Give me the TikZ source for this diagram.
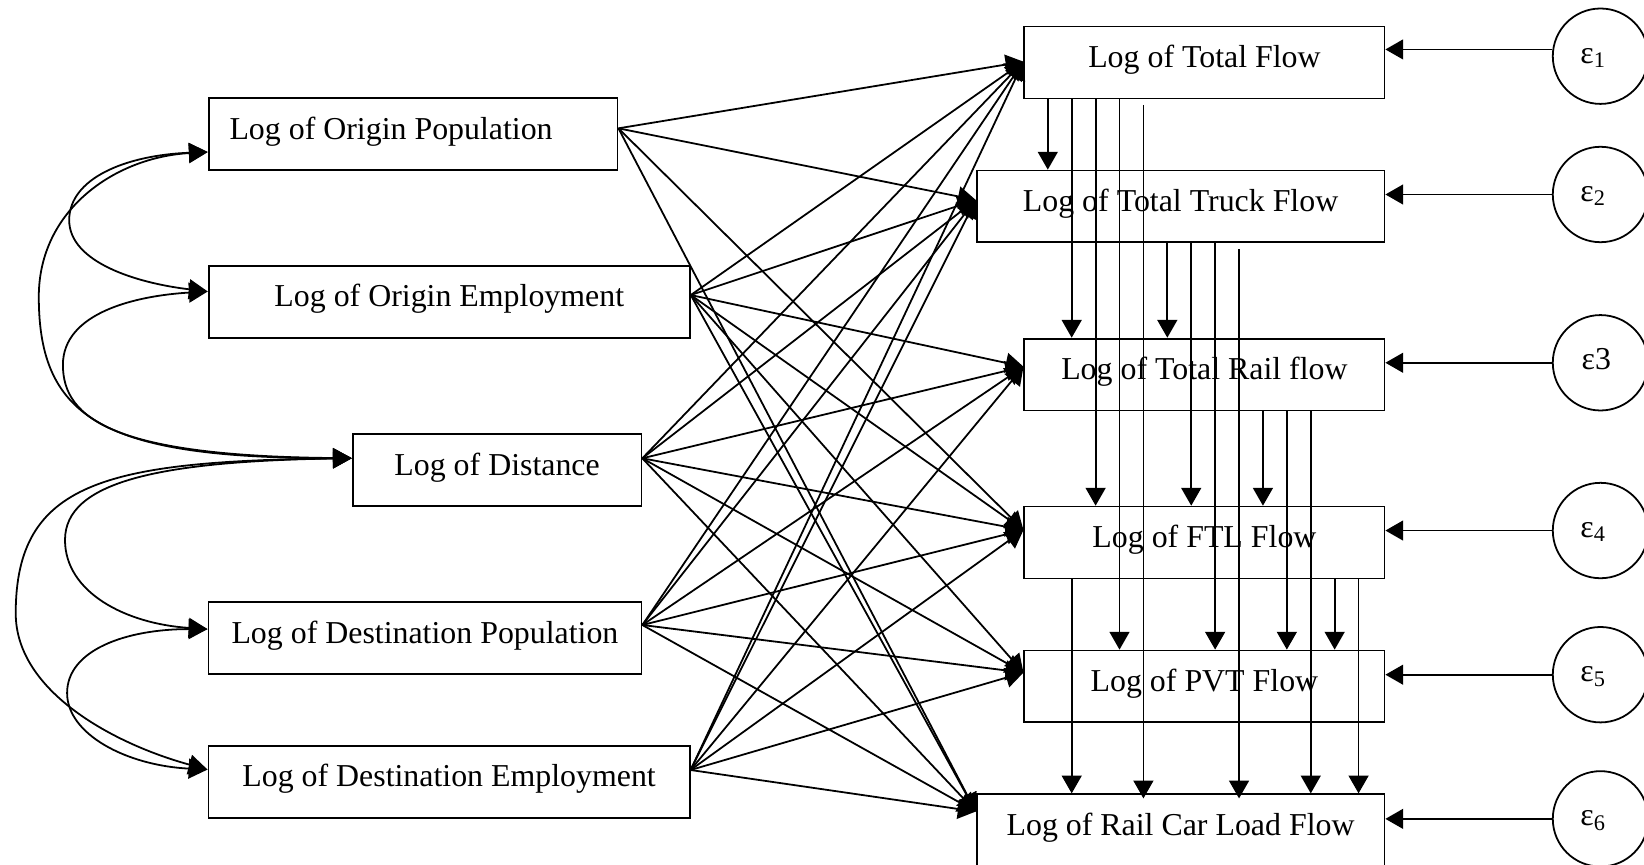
\documentclass[tikz,border=0pt]{standalone}
\usepackage{fontspec}
\setmainfont{Liberation Serif}
\usetikzlibrary{arrows.meta,calc}
\begin{document}
\begin{tikzpicture}[x=0.5pt,y=-0.5pt,
  box/.style={draw, line width=0.85pt, minimum height=34.25pt, inner sep=0pt,
    font=\fontsize{15.2}{18}\selectfont, text height=10pt, text depth=5.4pt},
  arr/.style={-{Triangle[length=8.5pt,width=9.5pt]}, line width=0.85pt},
  cov/.style={{Triangle[length=9pt,width=9.5pt]}-{Triangle[length=9pt,width=9.5pt]}, line width=0.85pt},
  err/.style={draw, circle, minimum size=45.5pt, inner sep=0pt, line width=0.85pt,
    font=\fontsize{15.2}{18}\selectfont, text height=8pt, text depth=1.5pt}]
\useasboundingbox (0,0) rectangle (1568,825);

% exogenous boxes
\node[box, minimum width=195pt]   (op)   at (394,128)     {Log of Origin Population\kern21pt\mbox{}};
\node[box, minimum width=229.5pt] (oe)   at (428.5,288.2) {Log of Origin Employment};
\node[box, minimum width=137.7pt] (dist) at (474.1,448.5) {Log of Distance};
\node[box, minimum width=206.5pt] (dp)   at (405.3,608.7) {Log of Destination Population};
\node[box, minimum width=229.5pt] (de)   at (428.3,746)   {Log of Destination Employment};

% endogenous boxes
\node[box, minimum width=171.75pt] (tf)  at (1148.75,59.6)  {Log of Total Flow};
\node[box, minimum width=194.5pt]  (ttf) at (1126,196.9)    {Log of Total Truck Flow};
\node[box, minimum width=171.75pt] (trf) at (1148.75,357.2) {Log of Total Rail flow};
\node[box, minimum width=171.75pt] (ftl) at (1148.75,517.4) {Log of FTL Flow};
\node[box, minimum width=171.75pt] (pvt) at (1148.75,654.7) {Log of PVT Flow};
\node[box, minimum width=194.5pt]  (rcl) at (1126,791.8)    {Log of Rail Car Load Flow};

% error terms
\node[err] (e1) at (1526.5,53.6) {ε\textsubscript{1}\kern7pt\mbox{}};
\node[err] (e2) at (1526.5,185.5) {ε\textsubscript{2}\kern7pt\mbox{}};
\node[err] (e3) at (1526.5,346) {ε3\kern4pt\mbox{}};
\node[err] (e4) at (1526.5,506) {ε\textsubscript{4}\kern7pt\mbox{}};
\node[err] (e5) at (1526.5,643.5) {ε\textsubscript{5}\kern7pt\mbox{}};
\node[err] (e6) at (1526.5,781) {ε\textsubscript{6}\kern7pt\mbox{}};

\draw[arr] (e1.172) -- (e1.172 -| tf.east);
\draw[arr] (e2.west) -- (e2.west -| ttf.east);
\draw[arr] (e3.west) -- (e3.west -| trf.east);
\draw[arr] (e4.west) -- (e4.west -| ftl.east);
\draw[arr] (e5.west) -- (e5.west -| pvt.east);
\draw[arr] (e6.west) -- (e6.west -| rcl.east);

% source / target points of the straight paths
\coordinate (sOP) at ($(op.east)+(0,-5.6)$);
\coordinate (sOE) at ($(oe.east)+(0,-6.8)$);
\coordinate (sDI) at ($(dist.east)+(0,-11.4)$);
\coordinate (sDP) at ($(dp.east)+(0,-12.6)$);
\coordinate (sDE) at ($(de.east)+(0,-11.6)$);
\coordinate (tTF)  at ($(tf.west)+(0,-0.8)$);
\coordinate (tTTF) at ($(ttf.west)+(0,-6.2)$);
\coordinate (tTRF) at ($(trf.west)+(0,-7.5)$);
\coordinate (tFTL) at ($(ftl.west)+(0,-11.9)$);
\coordinate (tPVT) at ($(pvt.west)+(0,-13.2)$);
\coordinate (tRCL) at ($(rcl.west)+(0,-17.8)$);

\foreach \t in {tTF,tTTF,tFTL,tRCL} \draw[arr] (sOP) -- (\t);
\foreach \s in {sOE,sDI,sDP,sDE}
  \foreach \t in {tTF,tTTF,tTRF,tFTL,tPVT,tRCL} \draw[arr] (\s) -- (\t);

% covariance curves
\coordinate (cOP) at ($(op.west)+(0,17)$);
\coordinate (cOE) at ($(oe.west)+(0,-10.2)$);
\coordinate (cDI) at ($(dist.west)+(0,-11.5)$);
\coordinate (cDP) at ($(dp.west)+(0,-8.7)$);
\coordinate (cDE) at ($(de.west)+(0,-12)$);

\draw[cov] (cOP) .. controls (120,148) and (66,170) .. (66,210) .. controls (66,250) and (130,270) .. (cOE);
\draw[cov] (cOP) .. controls (110,150) and (37,200) .. (37,283) .. controls (37,400) and (100,437) .. (cDI);
\draw[cov] (cOE) .. controls (130,282) and (60,298) .. (60,348) .. controls (60,400) and (110,435) .. (cDI);
\draw[cov] (cDI) .. controls (150,440) and (62,460) .. (62,515) .. controls (62,565) and (120,595) .. (cDP);
\draw[cov] (cDI) .. controls (100,440) and (15,460) .. (15,585) .. controls (15,660) and (110,710) .. (cDE);
\draw[cov] (cDP) .. controls (120,600) and (64,620) .. (64,661) .. controls (64,700) and (120,730) .. (cDE);

% vertical paths among endogenous variables
\foreach \k in {0,...,13} \coordinate (v\k) at ($(tf.south west)+({23.2+22.8*\k},0)$);
\draw[arr] (v0) -- (v0 |- ttf.north);
\draw[arr] (v1) -- (v1 |- trf.north);
\draw[arr] (v2) -- (v2 |- ftl.north);
\draw[arr] (v3) -- (v3 |- pvt.north);
\coordinate (a4) at ($(v4)+(0,5.4)$);
\coordinate (b4) at ($(v4 |- rcl.north)+(0,4.8)$);
\draw[arr] (a4) -- (b4);
\draw[arr] (v5 |- ttf.south) -- (v5 |- trf.north);
\draw[arr] (v6 |- ttf.south) -- (v6 |- ftl.north);
\draw[arr] (v7 |- ttf.south) -- (v7 |- pvt.north);
\coordinate (a8) at ($(v8 |- ttf.south)+(0,5.8)$);
\coordinate (b8) at ($(v8 |- rcl.north)+(0,4.8)$);
\draw[arr] (a8) -- (b8);
\draw[arr] (v9 |- trf.south) -- (v9 |- ftl.north);
\draw[arr] (v10 |- trf.south) -- (v10 |- pvt.north);
\draw[arr] (v11 |- trf.south) -- (v11 |- rcl.north);
\draw[arr] (v1 |- ftl.south) -- (v1 |- rcl.north);
\draw[arr] (v12 |- ftl.south) -- (v12 |- pvt.north);
\draw[arr] (v13 |- ftl.south) -- (v13 |- rcl.north);
\end{tikzpicture}
\end{document}
